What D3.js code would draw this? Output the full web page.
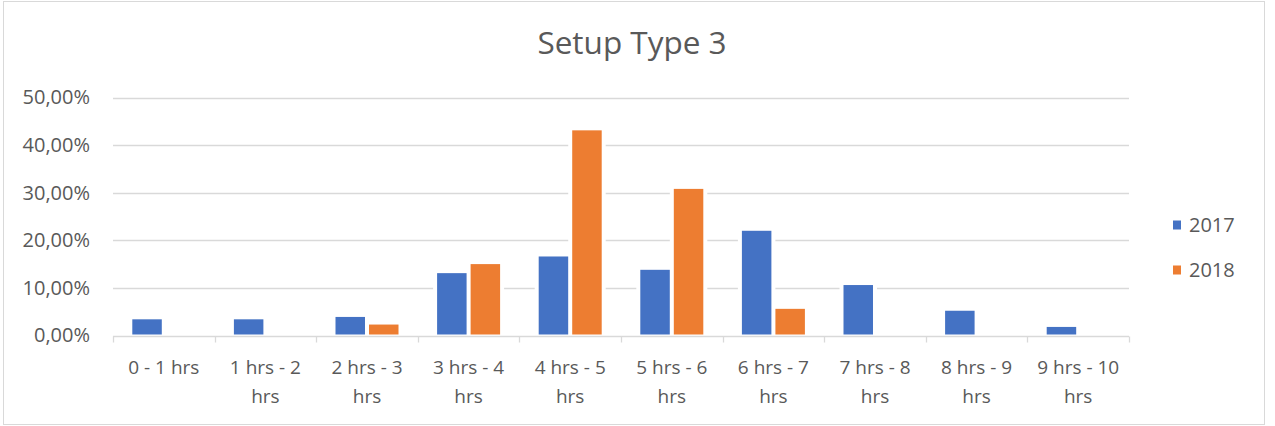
<!DOCTYPE html>
<html>
<head>
<meta charset="utf-8">
<script src="https://cdn.jsdelivr.net/npm/d3@7"></script>
<style>
  body { margin: 0; background: #fff; }
  text { font-family: "Open Sans", sans-serif; fill: #595959; }
</style>
</head>
<body>
<svg id="chart"></svg>
<script>
// data
const categories = ["0 - 1 hrs", "1 hrs - 2 hrs", "2 hrs - 3 hrs", "3 hrs - 4 hrs", "4 hrs - 5 hrs",
                    "5 hrs - 6 hrs", "6 hrs - 7 hrs", "7 hrs - 8 hrs", "8 hrs - 9 hrs", "9 hrs - 10 hrs"];
const seriesNames = ["2017", "2018"];
const values2017 = [3.4, 3.4, 3.9, 13.1, 16.6, 13.8, 22.0, 10.6, 5.2, 1.8];
const values2018 = [0, 0, 2.3, 15.0, 43.1, 30.8, 5.6, 0, 0, 0];
const yTicks = [0, 10, 20, 30, 40, 50];
const colors = ["#4472C4", "#ED7D31"];

// constants
const width = 1275;
const height = 426;
const plot = { left: 113, right: 1129, top: 97.5, bottom: 335.5 };

const svg = d3.select('svg#chart').attr('width', width).attr('height', height)

// chart border
svg.append("rect")
    .attr("x", 3.5).attr("y", 1.5)
    .attr("width", 1261).attr("height", 423)
    .attr("fill", "#fff")
    .attr("stroke", "#d9d9d9");

// title
svg.append("text")
    .attr("x", 632)
    .attr("y", 54)
    .attr("text-anchor", "middle")
    .attr("font-size", 31.5)
    .text("Setup Type 3");

// scales
const x0 = d3.scaleBand().domain(categories).range([plot.left, plot.right]);
const x1 = d3.scaleBand().domain(seriesNames)
    .range([19.3, x0.bandwidth() - 19.3])
    .paddingInner(0.12);
const y = d3.scaleLinear().domain([0, 50]).range([plot.bottom, plot.top]);

// gridlines
svg.append("g")
  .selectAll("line")
  .data(yTicks.filter(d => d > 0))
  .join("line")
    .attr("x1", plot.left).attr("x2", plot.right)
    .attr("y1", d => Math.round(y(d)) + 0.5)
    .attr("y2", d => Math.round(y(d)) + 0.5)
    .attr("stroke", "#d9d9d9")
    .attr("stroke-width", 1.3);

// y axis labels
const yAxis = d3.axisLeft(y)
    .tickValues(yTicks)
    .tickSize(0)
    .tickPadding(23)
    .tickFormat(d => d.toFixed(2).replace(".", ",") + "%");
const yg = svg.append("g").attr("transform", `translate(${plot.left},0)`).call(yAxis);
yg.select(".domain").remove();
yg.selectAll("text").attr("font-size", 20).attr("fill", "#595959")
    .attr("font-family", "Open Sans, sans-serif");

// bars
const rows = categories.map((c, i) => ({ cat: c, vals: [values2017[i], values2018[i]] }));
const groups = svg.append("g")
  .selectAll("g")
  .data(rows)
  .join("g")
    .attr("transform", d => `translate(${x0(d.cat)},0)`);

// white halo behind the bars (breaks the gridlines like the original)
groups.selectAll("rect.halo")
  .data(d => d.vals.map((v, k) => ({ s: seriesNames[k], v, k })).filter(e => e.v > 0))
  .join("rect")
    .attr("class", "halo")
    .attr("x", d => x1(d.s) - 4)
    .attr("width", x1.bandwidth() + 8)
    .attr("y", d => y(d.v) - 4)
    .attr("height", d => y(0) - y(d.v) + 4)
    .attr("fill", "#fff");

groups.selectAll("rect.bar")
  .data(d => d.vals.map((v, k) => ({ s: seriesNames[k], v, k })).filter(e => e.v > 0))
  .join("rect")
    .attr("class", "bar")
    .attr("x", d => x1(d.s))
    .attr("width", x1.bandwidth())
    .attr("y", d => y(d.v))
    .attr("height", d => y(0) - y(d.v) - 1)
    .attr("fill", d => colors[d.k]);

// x axis line + boundary ticks
svg.append("line")
    .attr("x1", plot.left).attr("x2", plot.right)
    .attr("y1", plot.bottom + 1).attr("y2", plot.bottom + 1)
    .attr("stroke", "#d9d9d9")
    .attr("stroke-width", 1.3);

const bounds = categories.map(c => x0(c)).concat([plot.right]);
svg.append("g")
  .selectAll("line")
  .data(bounds)
  .join("line")
    .attr("x1", d => Math.round(d) + 0.5).attr("x2", d => Math.round(d) + 0.5)
    .attr("y1", plot.bottom + 1).attr("y2", plot.bottom + 7)
    .attr("stroke", "#d9d9d9")
    .attr("stroke-width", 1.3);

// x labels, wrapped onto two lines like Excel does
function wrapLabel(label) {
  const words = label.split(" ");
  if (words.length <= 4) return [label];
  return [words.slice(0, words.length - 1).join(" "), words[words.length - 1]];
}

svg.append("g")
  .selectAll("text")
  .data(categories)
  .join("text")
    .attr("x", d => x0(d) + x0.bandwidth() / 2)
    .attr("y", 374)
    .attr("text-anchor", "middle")
    .attr("font-size", 19)
  .selectAll("tspan")
  .data(d => wrapLabel(d))
  .join("tspan")
    .attr("x", function() { return d3.select(this.parentNode).attr("x"); })
    .attr("dy", (d, i) => i === 0 ? 0 : 29)
    .text(d => d);

// legend
const legend = svg.append("g")
  .selectAll("g")
  .data(seriesNames)
  .join("g")
    .attr("transform", (d, i) => `translate(1173,${225 + i * 45})`);

legend.append("rect")
    .attr("x", 0).attr("y", -4.5)
    .attr("width", 8).attr("height", 9)
    .attr("fill", (d, i) => colors[i]);

legend.append("text")
    .attr("x", 16)
    .attr("y", 0)
    .attr("dy", "0.35em")
    .attr("font-size", 20)
    .text(d => d);
</script>
</body>
</html>
